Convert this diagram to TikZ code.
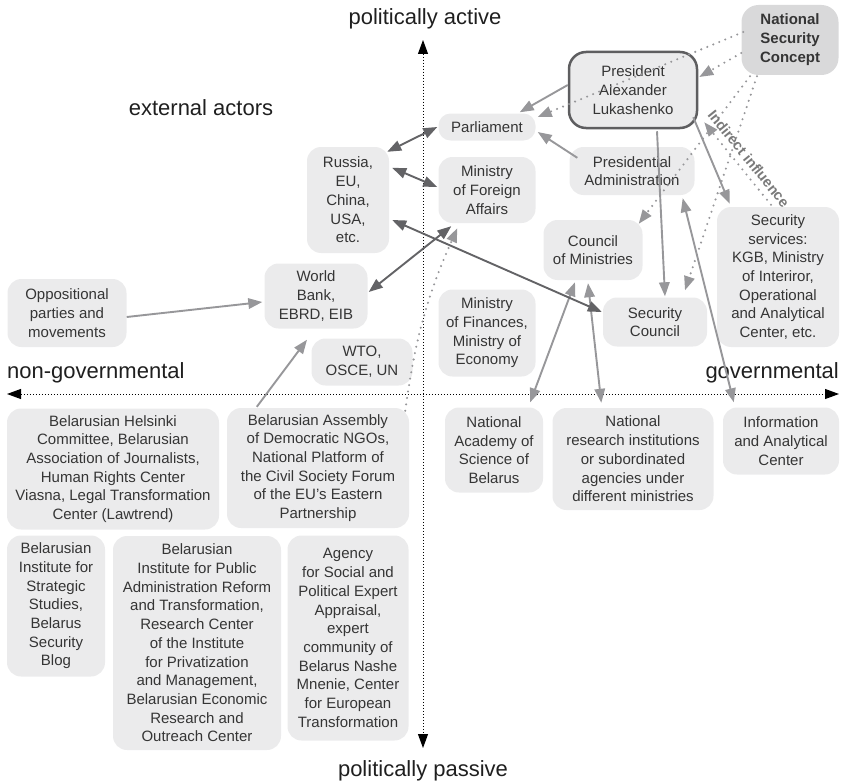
\documentclass[tikz,border=0pt]{standalone}
\usepackage{fontspec}
\setmainfont{Liberation Sans}
\usetikzlibrary{arrows.meta,calc}
\definecolor{boxfill}{HTML}{EBEBEC}
\definecolor{nscfill}{HTML}{D9D9DA}
\definecolor{txt}{HTML}{353535}
\definecolor{lightarr}{HTML}{97979A}
\definecolor{darkarr}{HTML}{636366}
\definecolor{presborder}{HTML}{5E5E60}
\begin{document}
\begin{tikzpicture}[x=1pt,y=-1pt,
  box/.style={draw=none, fill=boxfill, rounded corners=14pt, align=center, inner sep=0pt, text=txt,
    font=\fontsize{15}{18.7}\selectfont},
  sz/.style 2 args={minimum width=#1pt, minimum height=#2pt},
  tip/.tip={Triangle[length=14pt,width=10.5pt]},
  arr/.style={line width=1.9pt, draw=lightarr, -tip},
  darr/.style={line width=1.9pt, draw=lightarr, tip-tip},
  ext/.style={line width=1.9pt, draw=darkarr, tip-tip},
  dots/.style={line width=2.3pt, draw=lightarr, line cap=round, dash pattern=on 0pt off 6.5pt, -tip},
  axis/.style={line width=1pt, draw=black, dash pattern=on 1pt off 2pt,
    {Triangle[length=14pt,width=10pt]}-{Triangle[length=14pt,width=10pt]}},
  axlab/.style={font=\fontsize{22}{26}\selectfont, text=black!88, inner sep=0pt}
]
\useasboundingbox (0,0) rectangle (844,784);

% axes
\coordinate (ytop) at (423,40);
\coordinate (ybot) at (423,748);
\coordinate (xleft) at (7,394);
\coordinate (xright) at (839,394);
\draw[axis] (ytop) -- (ybot);
\draw[axis] (xleft) -- (xright);

\node[axlab, anchor=base] (lact) at (425,25) {politically active};
\node[axlab, anchor=base] (lpas) at (423,776) {politically passive};
\node[axlab, anchor=base] (lext) at (201,116) {external actors};
\node[axlab, anchor=base west] (lngov) at (7,378) {non-governmental};
\node[axlab, anchor=base east] (lgov) at (839,378) {governmental};

% boxes
\node[box, sz={97}{70}, fill=nscfill, rounded corners=17pt, font=\fontsize{15}{19}\selectfont\bfseries] (nsc) at (790,40) {National\\Security\\Concept};
\node[box, sz={128}{76}, draw=presborder, line width=2.5pt, rounded corners=17pt] (pres) at (633,90) {President\\Alexander\\Lukashenko};
\node[box, sz={97}{27}, rounded corners=12pt] (parl) at (487,127) {Parliament};
\node[box, sz={97}{66}] (mfa) at (487,190) {Ministry\\of Foreign\\Affairs};
\node[box, sz={125}{48}] (pa) at (632,171) {Presidential\\Administration};
\node[box, sz={99}{60}] (com) at (593,250) {Council\\of Ministries};
\node[box, sz={104}{49}] (sc) at (655,322) {Security\\Council};
\node[box, sz={122}{140}] (ss) at (778,277) {Security\\services:\\KGB, Ministry\\of Interiror,\\Operational\\and Analytical\\Center, etc.};
\node[box, sz={97}{87}] (mof) at (487,333) {Ministry\\of Finances,\\Ministry of\\Economy};
\node[box, sz={82}{106}] (rus) at (348,200) {Russia,\\EU,\\China,\\USA,\\etc.};
\node[box, sz={103}{65}] (wb) at (316,296) {World\\Bank,\\EBRD, EIB};
\node[box, sz={119}{68}] (opp) at (67,313) {Oppositional\\parties and\\movements};
\node[box, sz={101}{47}] (wto) at (362,362) {WTO,\\OSCE, UN};
\node[box, sz={212}{121}] (bhc) at (113,469) {Belarusian Helsinki\\Committee, Belarusian\\Association of Journalists,\\Human Rights Center\\Viasna, Legal Transformation\\Center (Lawtrend)};
\node[box, sz={182}{120}] (bad) at (318,468) {Belarusian Assembly\\of Democratic NGOs,\\National Platform of\\the Civil Society Forum\\of the EU’s Eastern\\Partnership};
\node[box, sz={98}{141}] (bis) at (56,606) {Belarusian\\Institute for\\Strategic\\Studies,\\Belarus\\Security\\Blog};
\node[box, sz={168}{214}] (bip) at (197,643) {Belarusian\\Institute for Public\\Administration Reform\\and Transformation,\\Research Center\\of the Institute\\for Privatization\\and Management,\\Belarusian Economic\\Research and\\Outreach Center};
\node[box, sz={121}{205}] (asp) at (348,638) {Agency\\for Social and\\Political Expert\\Appraisal,\\expert\\community of\\Belarus Nashe\\Mnenie, Center\\for European\\Transformation};
\node[box, sz={98}{85}] (nas) at (494,450) {National\\Academy of\\Science of\\Belarus};
\node[box, sz={161}{102}] (nri) at (633,459) {National\\research institutions\\or subordinated\\agencies under\\different ministries};
\node[box, sz={116}{67}] (iac) at (781,441) {Information\\and Analytical\\Center};

% solid light arrows
\draw[arr] ($(pres.west)+(0,-5)$) -- ($(parl.north east)+(-16,-1)$);
\draw[arr] ($(pa.north west)+(8,11)$) -- ($(parl.east)+(2,5)$);
\draw[arr] ($(pres.south)+(24,2)$) -- ($(sc.north)+(10,-1)$);
\draw[arr] ($(pres.south east)+(-5,-12)$) -- ($(ss.north west)+(13,-3)$);
\draw[arr] ($(opp.east)+(0,4)$) -- ($(wb.west)+(-2,6)$);
\draw[arr] ($(bad.north west)+(30,-1)$) -- ($(wb.south)+(-9,11)$);
\draw[darr] ($(pa.south east)+(-12,3)$) -- ($(iac.north west)+(11,-5)$);
\draw[darr] ($(com.south)+(-18,2)$) -- ($(nas.north east)+(-13,-5)$);
\draw[darr] ($(com.south)+(-5,3)$) -- ($(nri.north west)+(49,-5)$);

% dark external arrows
\draw[ext] ($(rus.north east)+(-2,5)$) -- ($(parl.west)+(-1,0)$);
\draw[ext] ($(rus.north east)+(3,21)$) -- ($(mfa.west)+(-1,-3)$);
\draw[ext] ($(rus.east)+(3,20)$) -- ($(sc.west)+(-1,-10)$);
\draw[ext] ($(wb.east)+(1,-4)$) -- ($(mfa.south west)+(13,3)$);

% dotted influence lines
\draw[dots] ($(nsc.west)+(2,-8)$) -- ($(parl.east)+(2,-10)$);
\draw[dots] ($(nsc.west)+(0,13)$) -- ($(pres.east)+(1,-13)$);
\draw[dots] ($(nsc.south)+(-40,1)$) -- ($(com.north east)+(-4,4)$);
\draw[dots] ($(nsc.south)+(-33,1)$) -- ($(sc.north)+(30,-7)$);
\draw[dots] ($(bad.north east)+(-4,3)$) to[bend left=8] ($(mfa.south west)+(19,5)$);
\draw[dots] ($(ss.north)+(-7,-2)$) -- node[sloped, above=2pt, pos=0.47, font=\fontsize{14.5}{16}\selectfont\bfseries, text=black!52] (indl) {Indirect influence} ($(pres.south east)+(6,-7)$);
\end{tikzpicture}
\end{document}
